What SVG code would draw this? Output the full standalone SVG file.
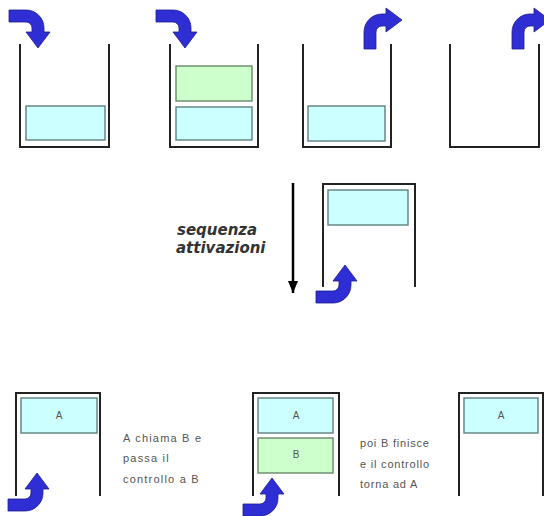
<svg xmlns="http://www.w3.org/2000/svg" width="544" height="516" viewBox="0 0 544 516">
  <style>
    .wall { fill: none; stroke: #222; stroke-width: 2; stroke-linejoin: miter; }
    .frame-a { fill: #ccffff; stroke: #5f7f7f; stroke-width: 1.4; }
    .frame-b { fill: #ccffcc; stroke: #6a866a; stroke-width: 1.4; }
    .flow { fill: #2e2ed4; stroke: #1c1c90; stroke-width: 0.8; }
    .lbl { font-family: "Liberation Sans", Arial, sans-serif; font-size: 10px; fill: #555; text-anchor: middle; }
    .note { font-family: "Liberation Sans", Arial, sans-serif; font-size: 11px; fill: #555; }
    .seq { font-family: "DejaVu Sans", Verdana, sans-serif; font-size: 15px; font-weight: bold; font-style: italic; fill: #333; }
  </style>
  <defs>
    <!-- bent block arrow: enters going right, turns and points down -->
    <path id="bend" d="M0,0 L17,0 A18,18 0 0 1 35,18 L35,22 L41,22 L29,38 L17,22 L23,22 L23,18 A6,6 0 0 0 17,12 L0,12 Z"/>
    <marker id="tip" markerWidth="12" markerHeight="10" refX="12" refY="5" orient="auto" markerUnits="userSpaceOnUse" viewBox="0 0 12 10">
      <path d="M0,0 L12,5 L0,10 Z" fill="#000"/>
    </marker>
  </defs>

  <!-- top row: stack growing and shrinking -->
  <g id="stack-1">
    <path class="wall" d="M20,44 V147 H109 V44"/>
    <rect class="frame-a" x="26" y="106" width="79" height="34"/>
    <use href="#bend" class="flow" transform="translate(9,10)"/>
  </g>
  <g id="stack-2">
    <path class="wall" d="M170,44 V147 H258 V44"/>
    <rect class="frame-b" x="176" y="66" width="76" height="35"/>
    <rect class="frame-a" x="176" y="107" width="76" height="33"/>
    <use href="#bend" class="flow" transform="translate(156,10)"/>
  </g>
  <g id="stack-3">
    <path class="wall" d="M303,44 V147 H391 V44"/>
    <rect class="frame-a" x="308" y="106" width="77" height="35"/>
    <use href="#bend" class="flow" transform="translate(364,49) rotate(-90)"/>
  </g>
  <g id="stack-4">
    <path class="wall" d="M450,44 V147 H539 V44"/>
    <use href="#bend" class="flow" transform="translate(512,49) rotate(-90)"/>
  </g>

  <!-- middle: activation order -->
  <g id="connectors">
    <line x1="293" y1="183" x2="293" y2="293" stroke="#000" stroke-width="2.5" marker-end="url(#tip)"/>
  </g>
  <g id="sequence-label">
    <text class="seq" x="177" y="235">sequenza</text>
    <text class="seq" x="176" y="253">attivazioni</text>
  </g>
  <g id="stack-inverted">
    <path class="wall" d="M323,287 V184 H415 V287"/>
    <rect class="frame-a" x="328" y="190" width="80" height="35"/>
    <use href="#bend" class="flow" transform="translate(316,303) scale(1,-1)"/>
  </g>

  <!-- bottom row: A calls B, then B returns to A -->
  <g id="frame-a-only">
    <path class="wall" d="M16,496 V393 H100 V496"/>
    <rect class="frame-a" x="21" y="398" width="76" height="35"/>
    <text class="lbl" x="59" y="419">A</text>
    <use href="#bend" class="flow" transform="translate(8,511) scale(1,-1)"/>
  </g>
  <g id="note-call">
    <text class="note" x="123" y="442" letter-spacing="1.2">A chiama B e</text>
    <text class="note" x="123" y="462" letter-spacing="1.2">passa il</text>
    <text class="note" x="123" y="483" letter-spacing="1.2">controllo a B</text>
  </g>
  <g id="frame-a-b">
    <path class="wall" d="M253,496 V393 H339 V496"/>
    <rect class="frame-a" x="258" y="398" width="75" height="35"/>
    <rect class="frame-b" x="258" y="438" width="75" height="35"/>
    <text class="lbl" x="296" y="419">A</text>
    <text class="lbl" x="296" y="458">B</text>
    <use href="#bend" class="flow" transform="translate(243,516) scale(1,-1)"/>
  </g>
  <g id="note-return">
    <text class="note" x="360" y="447" letter-spacing="0.8">poi B finisce</text>
    <text class="note" x="360" y="468" letter-spacing="0.8">e il controllo</text>
    <text class="note" x="360" y="488" letter-spacing="0.8">torna ad A</text>
  </g>
  <g id="frame-a-after">
    <path class="wall" d="M459,496 V393 H543 V496"/>
    <rect class="frame-a" x="464" y="398" width="74" height="35"/>
    <text class="lbl" x="501" y="419">A</text>
  </g>
</svg>
